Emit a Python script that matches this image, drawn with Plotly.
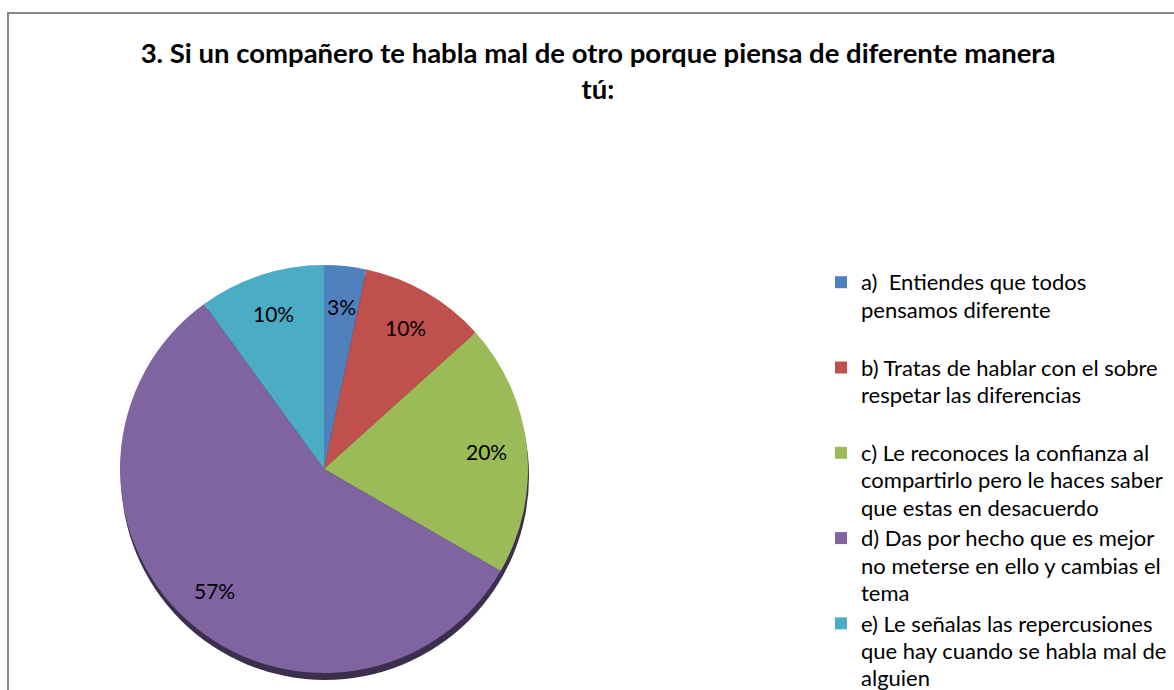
import math
import plotly.graph_objects as go

W, H = 1174, 690

TITLE = "3. Si un compañero te habla mal de otro porque piensa de diferente manera<br>tú:"

labels = [
    "a)&nbsp; Entiendes que todos<br>pensamos diferente<br> ",
    "b) Tratas de hablar con el sobre<br>respetar las diferencias<br> ",
    "c) Le reconoces la confianza al<br>compartirlo pero le haces saber<br>que estas en desacuerdo",
    "d) Das por hecho que es mejor<br>no meterse en ello y cambias el<br>tema",
    "e) Le señalas las repercusiones<br>que hay cuando se habla mal de<br>alguien",
]
# number of answers per option
counts = [1, 3, 6, 17, 3]
colors = ["#4F81BD", "#C0504D", "#9BBB59", "#8064A2", "#4BACC6"]

FONT = "Lato"

# pie: center ~ (324, 469), radius ~ 204 px
cx, cy, r = 324, 469, 204


def big_lines(txt, size=22):
    # legend keeps a smaller line pitch, the glyphs are drawn a bit bigger
    return "<br>".join(f"<span style='font-size:{size}px'>{s}</span>" for s in txt.split("<br>"))


fig = go.Figure()
fig.add_trace(go.Pie(
    labels=[big_lines(t) for t in labels],
    values=counts,
    sort=False,
    direction="clockwise",
    rotation=0,
    marker=dict(colors=colors, line=dict(width=0)),
    textinfo="none",
    hoverinfo="percent",
    domain=dict(x=[(cx - r) / W, (cx + r) / W],
                y=[1 - (cy + r) / H, 1 - (cy - r) / H]),
))

# percentage labels at ~0.8 of the radius, on each slice's middle angle
total = sum(counts)
annotations = []
acc = 0
for c in counts:
    mid = (acc + c / 2) / total * 2 * math.pi
    acc += c
    px = cx + 0.8 * r * math.sin(mid)
    py = cy - 0.8 * r * math.cos(mid)
    annotations.append(dict(
        text=f"{c / total:.0%}", x=px / W, y=1 - py / H,
        xref="paper", yref="paper", xanchor="center", yanchor="middle",
        showarrow=False,
        font=dict(family=FONT, size=21, color="black"),
    ))

fig.update_layout(
    width=W,
    height=H,
    margin=dict(l=0, r=0, t=0, b=0, autoexpand=False),
    paper_bgcolor="white",
    plot_bgcolor="white",
    title=dict(
        text=TITLE,
        x=598 / W,
        xanchor="center",
        y=1 - 63 / H,
        yanchor="top",
        font=dict(family=FONT, size=27.5, color="black", weight="bold"),
    ),
    legend=dict(
        x=821 / W,
        xanchor="left",
        y=1 - 262 / H,
        yanchor="top",
        valign="top",
        font=dict(family=FONT, size=21.1, color="black"),
        bgcolor="rgba(0,0,0,0)",
    ),
    annotations=annotations,
    shapes=[
        dict(type="rect", xref="paper", yref="paper",
             x0=8 / W, x1=1.1, y0=-0.1, y1=1 - 13 / H,
             line=dict(color="#878787", width=2)),
        # soft shadow under the pie
        dict(type="circle", xref="paper", yref="paper", layer="below",
             x0=(cx - r + 1) / W, x1=(cx + r + 1) / W,
             y0=1 - (cy + r + 7) / H, y1=1 - (cy - r + 7) / H,
             fillcolor="#3b2f4d", line=dict(width=0)),
    ],
)

# the page's default body margin would shift the figure by 8px
fig.write_html("out.html", config={"displayModeBar": False},
               post_script="document.body.style.margin='0';")
